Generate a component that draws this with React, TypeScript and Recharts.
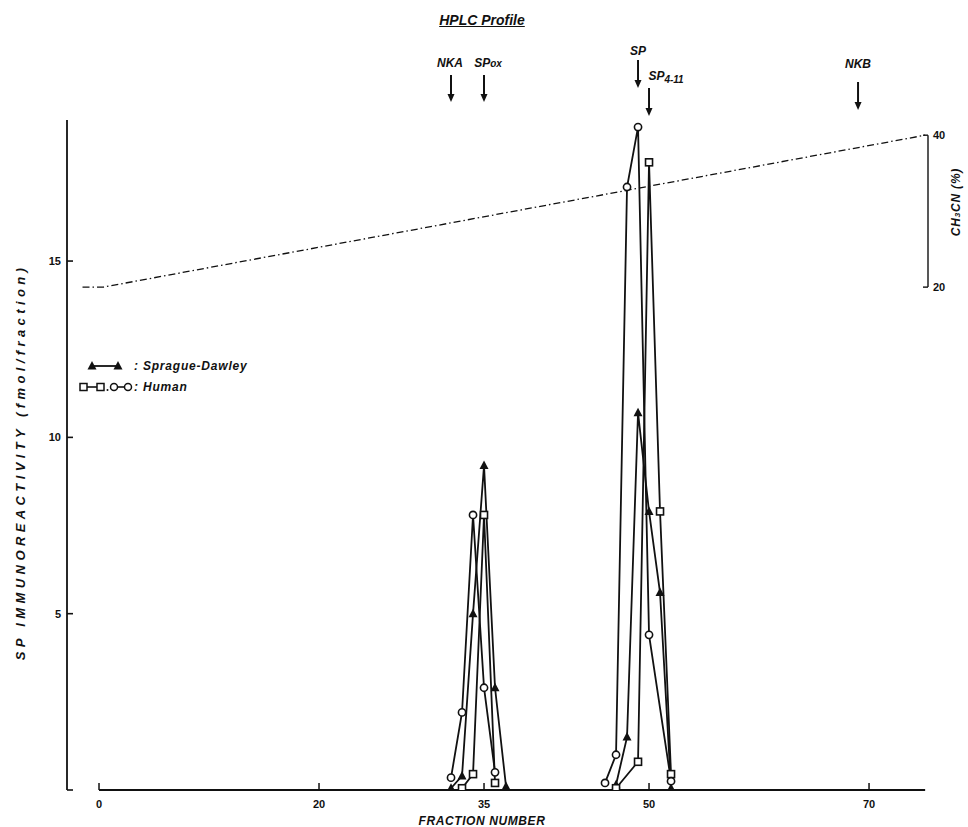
import { LineChart, Line, XAxis, YAxis, ReferenceLine } from 'recharts';

// axis ticks
const fractionTicks = [0, 20, 35, 50, 70];
const immunoTicks = [0, 5, 10, 15];
const acetonitrileTicks = [20, 40];

// Sprague-Dawley (filled triangles)
const sdFirstPeak = [
  { x: 32, y: 0.05 }, { x: 33, y: 0.4 }, { x: 34, y: 5.0 },
  { x: 35, y: 9.2 }, { x: 36, y: 2.9 }, { x: 37, y: 0.1 },
];
const sdSecondPeak = [
  { x: 47, y: 0.15 }, { x: 48, y: 1.5 }, { x: 49, y: 10.7 },
  { x: 50, y: 7.9 }, { x: 51, y: 5.6 }, { x: 52, y: 0.05 },
];

// Human, squares
const humanSqFirstPeak = [
  { x: 33, y: 0.05 }, { x: 34, y: 0.45 }, { x: 35, y: 7.8 }, { x: 36, y: 0.2 },
];
const humanSqSecondPeak = [
  { x: 47, y: 0.05 }, { x: 49, y: 0.8 }, { x: 50, y: 17.8 },
  { x: 51, y: 7.9 }, { x: 52, y: 0.45 },
];

// Human, circles
const humanCiFirstPeak = [
  { x: 32, y: 0.35 }, { x: 33, y: 2.2 }, { x: 34, y: 7.8 },
  { x: 35, y: 2.9 }, { x: 36, y: 0.5 },
];
const humanCiSecondPeak = [
  { x: 46, y: 0.2 }, { x: 47, y: 1.0 }, { x: 48, y: 17.1 },
  { x: 49, y: 18.8 }, { x: 50, y: 4.4 }, { x: 52, y: 0.25 },
];

// CH3CN gradient (%)
const gradientProfile = [
  { x: -1.5, y: 20 }, { x: 0.4, y: 20 }, { x: 75.1, y: 40 },
];

// elution positions of standards
const peptideNames = ['NKA', 'SPox', 'SP', 'SP4-11', 'NKB'];
const peptideFractions = [32, 35, 49, 50, 69];

const INK = '#111';
const FONT = '"Liberation Sans", Arial, sans-serif';
const X_DOMAIN: [number, number] = [-2.91, 75.36];

// arrow placement (pixels) for each standard
const arrowLayout: Record<string, { top: number; bottom: number; labelY: number; labelDx: number }> = {
  NKA: { top: 75, bottom: 102, labelY: 67, labelDx: -1 },
  SPox: { top: 75, bottom: 102, labelY: 67, labelDx: 4 },
  SP: { top: 60, bottom: 88, labelY: 55, labelDx: 0 },
  'SP4-11': { top: 88, bottom: 116, labelY: 80, labelDx: 17 },
  NKB: { top: 82, bottom: 110, labelY: 68, labelDx: 0 },
};

function peptideLabel(name: string) {
  if (name === 'SPox') return <>SP<tspan fontSize={10}>ox</tspan></>;
  if (name === 'SP4-11') return <>SP<tspan fontSize={10} dy={3}>4-11</tspan></>;
  return name;
}

const arrowShape = (name: string) => (props: any) => {
  const x = props.x1;
  const l = arrowLayout[name];
  return (
    <g>
      <line x1={x} x2={x} y1={l.top} y2={l.bottom - 6} stroke={INK} strokeWidth={2} />
      <path d={`M${x - 3.5},${l.bottom - 8} L${x + 3.5},${l.bottom - 8} L${x},${l.bottom} Z`} fill={INK} />
      <text x={x + l.labelDx} y={l.labelY} textAnchor="middle" fontFamily={FONT} fontSize={12}
        fontWeight="bold" fontStyle="italic" fill={INK}>
        {peptideLabel(name)}
      </text>
    </g>
  );
};

const triangleDot = (props: any) => {
  const { cx, cy, index } = props;
  if (cx == null || cy == null) return <g key={index} />;
  return <path key={index} d={`M${cx},${cy - 5} L${cx + 4.5},${cy + 3.5} L${cx - 4.5},${cy + 3.5} Z`} fill={INK} />;
};

const squareDot = (props: any) => {
  const { cx, cy, index } = props;
  if (cx == null || cy == null) return <g key={index} />;
  return <rect key={index} x={cx - 3.5} y={cy - 3.5} width={7} height={7} fill="#fff" stroke={INK} strokeWidth={1.6} />;
};

const circleDot = (props: any) => {
  const { cx, cy, index } = props;
  if (cx == null || cy == null) return <g key={index} />;
  return <circle key={index} cx={cx} cy={cy} r={3.6} fill="#fff" stroke={INK} strokeWidth={1.6} />;
};

const FractionTick = (props: any) => {
  const { x, y, payload } = props;
  return (
    <g>
      <line x1={x} x2={x} y1={y} y2={y - 7} stroke={INK} strokeWidth={1.5} />
      <text x={x} y={y + 18} textAnchor="middle" fontFamily={FONT} fontSize={11} fontWeight="bold" fill={INK}>
        {payload.value}
      </text>
    </g>
  );
};

const ImmunoTick = (props: any) => {
  const { x, y, payload } = props;
  return (
    <g>
      <line x1={x} x2={x + 6} y1={y} y2={y} stroke={INK} strokeWidth={1.6} />
      {payload.value !== 0 && (
        <text x={x - 6} y={y + 4} textAnchor="end" fontFamily={FONT} fontSize={11} fontWeight="bold" fill={INK}>
          {payload.value}
        </text>
      )}
    </g>
  );
};

const AcetonitrileTick = (props: any) => {
  const { x, y, payload } = props;
  return (
    <g>
      <line x1={x - 5} x2={x} y1={y} y2={y} stroke={INK} strokeWidth={1.4} />
      <text x={x + 5} y={y + 4} textAnchor="start" fontFamily={FONT} fontSize={11} fontWeight="bold" fill={INK}>
        {payload.value}
      </text>
    </g>
  );
};

const ImmunoTitle = () => (
  <text transform="translate(25,462) rotate(-90)" textAnchor="middle" fontFamily={FONT} fontSize={13}
    fontWeight="bold" fontStyle="italic" letterSpacing={4.4} fill={INK}>
    SP IMMUNOREACTIVITY (fmol/fraction)
  </text>
);

const AcetonitrileTitle = () => (
  <text transform="translate(960,202) rotate(-90)" textAnchor="middle" fontFamily={FONT} fontSize={12}
    fontWeight="bold" fontStyle="italic" letterSpacing={0.8} fill={INK}>
    CH<tspan fontSize={8}>3</tspan>CN (%)
  </text>
);

const FractionTitle = () => (
  <text x={482} y={825} textAnchor="middle" fontFamily={FONT} fontSize={12} fontWeight="bold"
    fontStyle="italic" letterSpacing={0.6} fill={INK}>
    FRACTION NUMBER
  </text>
);

function LegendBox() {
  const txt = { fontFamily: FONT, fontSize: 12, fontWeight: 'bold' as const, fontStyle: 'italic' as const, letterSpacing: 0.8, fill: INK };
  return (
    <svg width={200} height={40} style={{ position: 'absolute', left: 76, top: 354 }}>
      <line x1={16} x2={42} y1={12} y2={12} stroke={INK} strokeWidth={1.8} />
      <path d="M16,7 L20.5,15.5 L11.5,15.5 Z" fill={INK} />
      <path d="M42,7 L46.5,15.5 L37.5,15.5 Z" fill={INK} />
      <text x={58} y={16} {...txt}>: Sprague-Dawley</text>
      <line x1={8} x2={24} y1={33} y2={33} stroke={INK} strokeWidth={1.6} />
      <rect x={4} y={29.5} width={7} height={7} fill="#fff" stroke={INK} strokeWidth={1.5} />
      <rect x={21} y={29.5} width={7} height={7} fill="#fff" stroke={INK} strokeWidth={1.5} />
      <circle cx={31.5} cy={36} r={1} fill={INK} />
      <line x1={38} x2={52} y1={33} y2={33} stroke={INK} strokeWidth={1.6} />
      <circle cx={38} cy={33} r={3.5} fill="#fff" stroke={INK} strokeWidth={1.5} />
      <circle cx={52} cy={33} r={3.5} fill="#fff" stroke={INK} strokeWidth={1.5} />
      <text x={58} y={37} {...txt}>: Human</text>
    </svg>
  );
}

const lineProps = {
  dataKey: 'y',
  stroke: INK,
  strokeWidth: 1.8,
  isAnimationActive: false,
  type: 'linear' as const,
  yAxisId: 'ir',
};

export default function App() {
  return (
    <div style={{ position: 'relative', width: 968, height: 827, background: '#fff', fontFamily: FONT }}>
      <style>{'body{margin:0}'}</style>
      <div style={{
        position: 'absolute', left: 382, top: 12, width: 200, textAlign: 'center', fontSize: 14,
        fontWeight: 'bold', fontStyle: 'italic', textDecoration: 'underline', color: INK, lineHeight: '16px',
      }}>
        HPLC Profile
      </div>
      <LineChart width={968} height={827} margin={{ top: 120, right: 0, bottom: 0, left: 0 }}>
        <XAxis type="number" dataKey="x" domain={X_DOMAIN} ticks={fractionTicks} allowDataOverflow
          axisLine={false} tickLine={false} tickSize={0} tickMargin={0} height={37}
          tick={(p: any) => <FractionTick {...p} />} label={<FractionTitle />} />
        <YAxis yAxisId="ir" domain={[0, 19]} ticks={immunoTicks} width={67} allowDataOverflow
          axisLine={{ stroke: INK, strokeWidth: 1.8 }} tickLine={false} tickSize={0} tickMargin={0}
          tick={(p: any) => <ImmunoTick {...p} />} label={<ImmunoTitle />} />
        <YAxis yAxisId="ac" orientation="right" domain={[-46.2, 42]} ticks={acetonitrileTicks} width={40}
          allowDataOverflow axisLine={false} tickLine={false} tickSize={0} tickMargin={0}
          tick={(p: any) => <AcetonitrileTick {...p} />} label={<AcetonitrileTitle />} />

        <ReferenceLine yAxisId="ir" segment={[{ x: 0, y: 0 }, { x: 75.1, y: 0 }]} stroke={INK} strokeWidth={1.8} />
        <ReferenceLine yAxisId="ac" segment={[{ x: X_DOMAIN[1], y: 20 }, { x: X_DOMAIN[1], y: 40 }]} stroke={INK} strokeWidth={1.4} />

        {peptideNames.map((name, i) => (
          <ReferenceLine key={name} yAxisId="ir" x={peptideFractions[i]} shape={arrowShape(name)} />
        ))}

        <Line data={gradientProfile} dataKey="y" yAxisId="ac" stroke={INK} strokeWidth={1.3}
          strokeDasharray="7 3 1.5 3" dot={false} isAnimationActive={false} type="linear" />

        <Line {...lineProps} data={sdFirstPeak} dot={triangleDot} />
        <Line {...lineProps} data={sdSecondPeak} dot={triangleDot} />
        <Line {...lineProps} data={humanSqFirstPeak} dot={squareDot} />
        <Line {...lineProps} data={humanSqSecondPeak} dot={squareDot} />
        <Line {...lineProps} data={humanCiFirstPeak} dot={circleDot} />
        <Line {...lineProps} data={humanCiSecondPeak} dot={circleDot} />
      </LineChart>
      <LegendBox />
    </div>
  );
}
